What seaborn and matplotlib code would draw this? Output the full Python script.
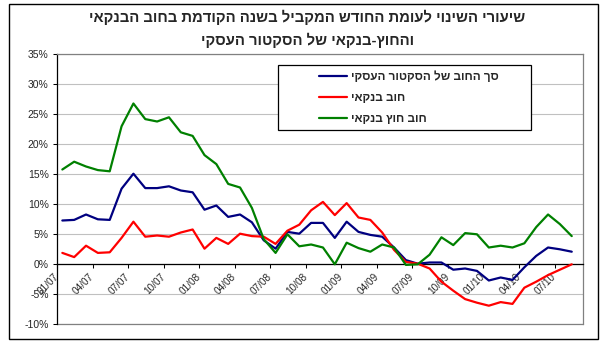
import numpy as np
import pandas as pd
import matplotlib
matplotlib.use("Agg")
import matplotlib.pyplot as plt
import seaborn as sns
from matplotlib.patches import Rectangle

# ---------------- data ----------------
months = ["01/07", "02/07", "03/07", "04/07", "05/07", "06/07", "07/07", "08/07", "09/07", "10/07",
          "11/07", "12/07", "01/08", "02/08", "03/08", "04/08", "05/08", "06/08", "07/08", "08/08",
          "09/08", "10/08", "11/08", "12/08", "01/09", "02/09", "03/09", "04/09", "05/09", "06/09",
          "07/09", "08/09", "09/09", "10/09", "11/09", "12/09", "01/10", "02/10", "03/10", "04/10",
          "05/10", "06/10", "07/10", "08/10"]

total_debt = [7.3, 7.4, 8.3, 7.5, 7.4, 12.6, 15.1, 12.7, 12.7, 13.0,
              12.3, 12.0, 9.1, 9.8, 7.9, 8.3, 7.0, 4.0, 2.6, 5.4,
              5.1, 6.9, 6.9, 4.4, 7.1, 5.4, 4.9, 4.6, 2.8, 0.7,
              0.1, 0.3, 0.3, -0.9, -0.7, -1.1, -2.7, -2.2, -2.6, -0.5,
              1.4, 2.8, 2.5, 2.1]

bank_debt = [1.9, 1.2, 3.1, 1.9, 2.0, 4.4, 7.1, 4.6, 4.8, 4.6,
             5.3, 5.8, 2.6, 4.4, 3.4, 5.1, 4.7, 4.6, 3.4, 5.6,
             6.6, 9.0, 10.4, 8.2, 10.2, 7.8, 7.4, 5.3, 2.4, 0.4,
             0.1, -0.7, -2.9, -4.4, -5.8, -6.4, -6.9, -6.3, -6.6, -3.9,
             -2.9, -1.8, -0.9, 0.0]

nonbank_debt = [15.8, 17.1, 16.3, 15.7, 15.5, 23.0, 26.8, 24.2, 23.8, 24.5,
                22.0, 21.4, 18.2, 16.7, 13.4, 12.8, 9.4, 4.2, 1.9, 5.0,
                3.0, 3.3, 2.8, 0.0, 3.6, 2.7, 2.1, 3.3, 2.8, -0.1,
                0.0, 1.6, 4.5, 3.2, 5.2, 5.0, 2.8, 3.1, 2.8, 3.5,
                6.2, 8.3, 6.7, 4.7]

tick_labels = ["01/07", "04/07", "07/07", "10/07", "01/08", "04/08", "07/08", "10/08",
               "01/09", "04/09", "07/09", "10/09", "01/10", "04/10", "07/10"]
y_ticks = [-10, -5, 0, 5, 10, 15, 20, 25, 30, 35]

series_names = ["סך החוב של הסקטור העסקי", "חוב בנקאי", "חוב חוץ בנקאי"]
series_colors = ["#000080", "#FF0000", "#008000"]
title_lines = ["שיעורי השינוי לעומת החודש המקביל בשנה הקודמת בחוב הבנקאי",
               "והחוץ-בנקאי של הסקטור העסקי"]

FONTS = ['Liberation Sans', 'DejaVu Sans']
sns.set_style("white")
plt.rcParams['font.family'] = FONTS


def vis(s):
    # matplotlib lays text out left-to-right with no bidi: put Hebrew in visual order
    return s[::-1]


idx = list(range(len(months)))
df = pd.concat([
    pd.DataFrame({"idx": idx, "value": vals, "series": name})
    for name, vals in zip(series_names, [total_debt, bank_debt, nonbank_debt])
], ignore_index=True)

W, H = 604, 345
fig = plt.figure(figsize=(W / 100, H / 100), dpi=100)
fig.patch.set_facecolor("white")
ax = fig.add_axes([57 / W, 1 - 324.3 / H, 526 / W, 270 / H])

sns.lineplot(data=df, x="idx", y="value", hue="series", hue_order=series_names,
             palette=dict(zip(series_names, series_colors)), linewidth=1.6,
             legend=False, ax=ax, zorder=3)

ax.set_xlim(-0.45, 43.95)
ax.set_ylim(-10, 35)
ax.set_xlabel("")
ax.set_ylabel("")

# spines first (set_position resets ticks)
ax.spines["bottom"].set_position(("data", 0))
ax.spines["bottom"].set_color("black")
ax.spines["bottom"].set_linewidth(0.9)
ax.spines["left"].set_color("black")
ax.spines["left"].set_linewidth(0.9)
for s in ["top", "right"]:
    ax.spines[s].set_color("#808080")
    ax.spines[s].set_linewidth(0.9)
ax.axhline(-10, color="#808080", linewidth=0.9, zorder=2, clip_on=False)

# y axis
ax.set_yticks(y_ticks)
ax.set_yticklabels([f"{v}%" for v in y_ticks])
ax.tick_params(axis="y", direction="out", length=3, width=0.75, pad=3,
               labelsize=7.5, left=True, color="black")
ax.yaxis.grid(True, color="#c0c0c0", linewidth=0.8)
ax.xaxis.grid(False)
ax.set_axisbelow(True)

# x axis at 0
ax.tick_params(axis="x", direction="out", length=3, width=0.75, pad=5,
               bottom=True, color="black")
ax.set_xticks([-0.45 + 3 * k for k in range(len(tick_labels))])
ax.set_xticklabels(tick_labels, rotation=45, ha="right", va="center",
                   rotation_mode="anchor", fontsize=7.2)

# legend box + legend
ax.add_patch(Rectangle((278 / W, 1 - 130 / H), 253 / W, 65 / H,
                       transform=fig.transFigure, facecolor="white",
                       edgecolor="black", linewidth=0.9, zorder=4, clip_on=False))
leg = ax.legend(handles=ax.lines[:3], labels=[vis(s) for s in series_names],
                loc="upper left", bbox_to_anchor=(319 / W, 1 - 71 / H),
                bbox_transform=fig.transFigure, frameon=False,
                prop={"weight": "bold", "size": 8.5}, handlelength=2.4,
                handletextpad=0.3, labelspacing=0.75, borderpad=0, borderaxespad=0)
leg.set_zorder(5)

# title
fig.text(0.508, 1 - 17 / H, vis(title_lines[0]), ha="center", va="center",
         fontsize=10.7, fontweight="bold")
fig.text(0.51, 1 - 40 / H, vis(title_lines[1]), ha="center", va="center",
         fontsize=10.7, fontweight="bold")

# chart-area border
fig.add_artist(Rectangle((8.5 / W, 1 - 338.5 / H), 589 / W, 335 / H,
                         transform=fig.transFigure, fill=False,
                         edgecolor="black", linewidth=1.0))

fig.savefig("out.png", dpi=100)
